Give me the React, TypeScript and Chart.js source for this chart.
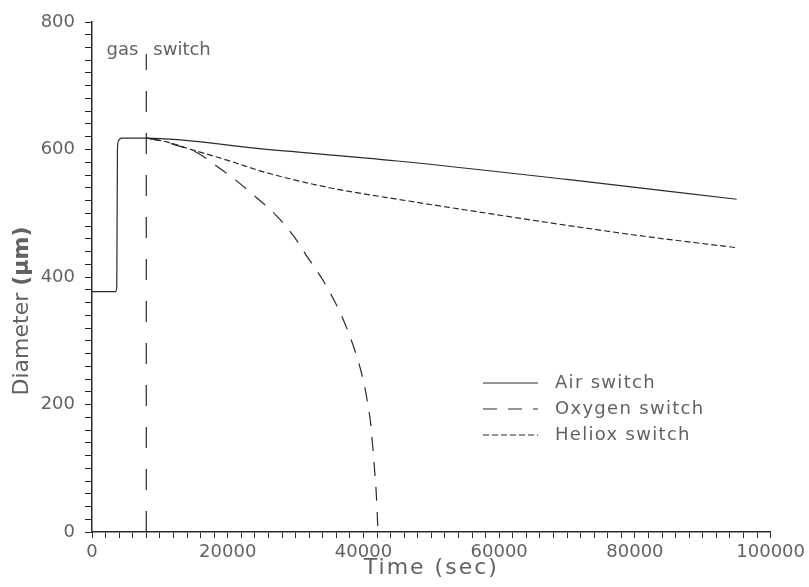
import { useEffect, useRef } from 'react';
import { Chart, registerables } from 'chart.js';

Chart.register(...registerables);

// ---- data (time in sec, diameter in µm) ----
const airTime = [0, 3500, 3650, 3750, 3900, 4300, 8000, 25000, 45000, 70000, 95000];
const airDiameter = [377, 377, 385, 600, 614, 618, 618, 601, 582, 553, 522];

const oxygenTime = [8000, 10000, 12000, 15300, 18500, 21400, 24300, 27100, 29800, 31700, 33850, 35650, 37230, 38600, 39720, 40460, 41050, 41380, 41680, 41930, 42120, 42200];
const oxygenDiameter = [618, 614, 608, 596, 573, 550, 524, 497, 463, 432, 398, 364, 328, 289, 249, 212, 171, 132, 92, 53, 8, 0];

const helioxTime = [8000, 11000, 14000, 20000, 25600, 35000, 45000, 57000, 70000, 82000, 95000];
const helioxDiameter = [618, 612, 602, 583, 564, 540, 522, 502, 481, 463, 446];

const switchTime = [8000, 8000];
const switchDiameter = [0, 750];

const xMajorTicks = [0, 20000, 40000, 60000, 80000, 100000];
const yMajorTicks = [0, 200, 400, 600, 800];

const legendLabels = ['Air switch', 'Oxygen switch', 'Heliox switch'];
const xTitle = 'Time (sec)';
const yTitleMain = 'Diameter ';
const yTitleUnit = '(µm)';
const switchLabelLeft = 'gas';
const switchLabelRight = 'switch';

const FONT = '"DejaVu Sans", sans-serif';
const TEXT = '#626262';
const LINE = '#2a2a2a';

const toPoints = (t: number[], d: number[]) => t.map((x, i) => ({ x, y: d[i] }));

const dashes: number[][] = [[], [14, 11], [6, 3]];

const overlayPlugin = {
  id: 'overlay',
  afterDraw(chart: any) {
    const ctx = chart.ctx as CanvasRenderingContext2D & { letterSpacing?: string };
    const xs = chart.scales.x;
    const area = chart.chartArea;
    ctx.save();
    ctx.fillStyle = TEXT;

    // x title
    ctx.font = `22px ${FONT}`;
    ctx.letterSpacing = '2px';
    ctx.textAlign = 'center';
    ctx.textBaseline = 'middle';
    ctx.fillText(xTitle, (area.left + area.right) / 2, 568);
    ctx.letterSpacing = '0px';

    // y title (mixed weight)
    ctx.save();
    ctx.translate(22, 311);
    ctx.rotate(-Math.PI / 2);
    ctx.font = `22px ${FONT}`;
    const w1 = ctx.measureText(yTitleMain).width;
    ctx.font = `bold 22px ${FONT}`;
    const w2 = ctx.measureText(yTitleUnit).width;
    const start = -(w1 + w2) / 2;
    ctx.textAlign = 'left';
    ctx.font = `22px ${FONT}`;
    ctx.fillText(yTitleMain, start, 0);
    ctx.font = `bold 22px ${FONT}`;
    ctx.fillText(yTitleUnit, start + w1, 0);
    ctx.restore();

    // gas switch label
    const sx = xs.getPixelForValue(switchTime[0]);
    ctx.font = `18px ${FONT}`;
    ctx.textBaseline = 'alphabetic';
    ctx.textAlign = 'right';
    ctx.fillText(switchLabelLeft, sx - 8, 55);
    ctx.textAlign = 'left';
    ctx.fillText(switchLabelRight, sx + 7, 55);

    // legend
    const rowY = [383, 409, 435];
    ctx.font = `18px ${FONT}`;
    ctx.letterSpacing = '1.3px';
    ctx.textBaseline = 'middle';
    ctx.textAlign = 'left';
    legendLabels.forEach((label, i) => {
      ctx.save();
      ctx.strokeStyle = LINE;
      ctx.lineWidth = 1.2;
      ctx.setLineDash(dashes[i]);
      ctx.beginPath();
      ctx.moveTo(483, rowY[i]);
      ctx.lineTo(538, rowY[i]);
      ctx.stroke();
      ctx.restore();
      ctx.fillText(label, 555, rowY[i]);
    });
    ctx.letterSpacing = '0px';
    ctx.restore();
  },
};

export default function App() {
  const ref = useRef<HTMLCanvasElement>(null);

  useEffect(() => {
    if (!ref.current) return;
    const common = {
      borderColor: LINE,
      borderWidth: 1.2,
      pointRadius: 0,
      fill: false,
      cubicInterpolationMode: 'monotone' as const,
    };
    const chart = new Chart(ref.current, {
      type: 'line',
      data: {
        datasets: [
          { ...common, label: legendLabels[0], data: toPoints(airTime, airDiameter) },
          { ...common, label: legendLabels[1], data: toPoints(oxygenTime, oxygenDiameter), borderDash: dashes[1] },
          { ...common, label: legendLabels[2], data: toPoints(helioxTime, helioxDiameter), borderDash: dashes[2] },
          { ...common, label: 'switch', data: toPoints(switchTime, switchDiameter), borderDash: [21, 21], cubicInterpolationMode: 'default' as const },
        ],
      },
      options: {
        responsive: false,
        animation: false,
        layout: { padding: { left: 0, top: 22, right: 36, bottom: 0 } },
        plugins: { legend: { display: false }, tooltip: { enabled: false }, title: { display: false } },
        scales: {
          x: {
            type: 'linear',
            min: 0,
            max: 100000,
            afterFit: (s: any) => { s.height = 55; },
            ticks: {
              stepSize: 2000,
              autoSkip: false,
              maxRotation: 0,
              padding: 4,
              color: TEXT,
              font: { family: FONT, size: 18 },
              callback: (v: any) => (xMajorTicks.includes(Number(v)) ? String(v) : ''),
            },
            grid: { drawOnChartArea: false, tickLength: 6, tickColor: LINE, tickWidth: 1 },
            border: { display: true, color: LINE, width: 1.5 },
          },
          y: {
            type: 'linear',
            min: 0,
            max: 800,
            afterFit: (s: any) => { s.width = 92; },
            ticks: {
              stepSize: 20,
              autoSkip: false,
              padding: 10,
              color: TEXT,
              font: { family: FONT, size: 18 },
              callback: (v: any) => (yMajorTicks.includes(Number(v)) ? String(v) : ''),
            },
            grid: { drawOnChartArea: false, tickLength: 7, tickColor: LINE, tickWidth: 1 },
            border: { display: true, color: LINE, width: 1.5 },
          },
        },
      },
      plugins: [overlayPlugin],
    });
    return () => chart.destroy();
  }, []);

  return (
    <div style={{ position: 'fixed', left: 0, top: 0, width: 809, height: 587, background: '#fff' }}>
      <canvas ref={ref} width={809} height={587} />
    </div>
  );
}
